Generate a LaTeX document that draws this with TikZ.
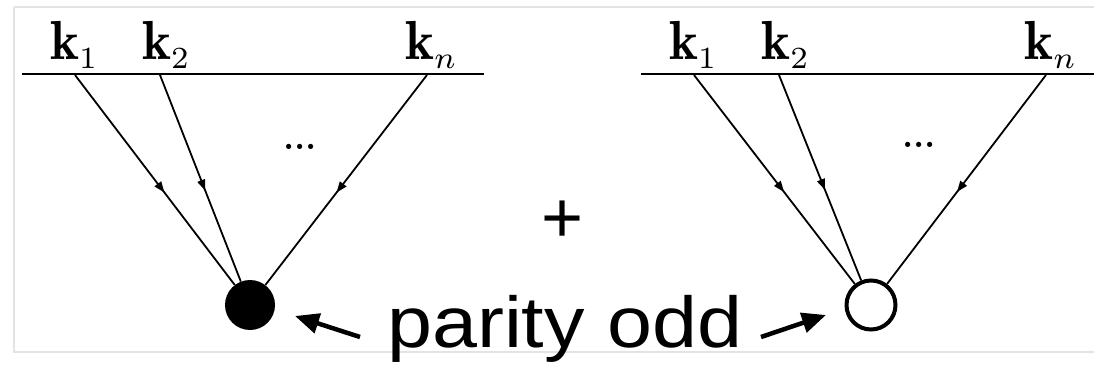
\documentclass[tikz,border=0pt]{standalone}
\usepackage{fontspec}
\newfontfamily\helv{Liberation Sans}
\usetikzlibrary{arrows.meta,decorations.markings}
\newcommand{\kvec}[1]{\scalebox{5.5}{$\mathbf{k}_{\scalebox{0.8}{$\scriptstyle #1$}}$}}
\tikzset{
  frame/.style={draw=black!11,line width=2pt},
  baseline/.style={line width=1.8pt},
  leg/.style={line width=1.8pt,postaction={decorate},
    decoration={markings,mark=at position 0.56 with {\arrow{Triangle[length=11pt,width=8pt]}}}},
  klabel/.style={inner sep=0pt,anchor=base west,font=\fontsize{10}{12}\selectfont},
  vdots/.style={inner sep=0pt,anchor=base,font=\fontsize{36}{36}\selectfont\bfseries},
  fullv/.style={circle,fill=black,minimum size=50pt,inner sep=0pt},
  openv/.style={circle,draw=black,line width=4pt,fill=white,minimum size=49pt,inner sep=0pt},
  pointer/.style={line width=4.5pt,-{Triangle[length=24pt,width=20pt]}},
  bigtext/.style={inner sep=0pt,font=\fontsize{72}{72}\helv}
}
\begin{document}
\begin{tikzpicture}[x=1pt,y=-1pt]
\useasboundingbox (0,0) rectangle (1094,366);
\draw[frame] (14,7) -- (1100,7);
\draw[frame] (14,7) -- (14,352) -- (1100,352);

% left diagram
\coordinate (L0) at (22,74);
\coordinate (L1) at (484,74);
\draw[baseline] (L0) -- (L1);
\coordinate (La) at (75,75);
\coordinate (Lb) at (160,75);
\coordinate (Lc) at (427,75);
\node[fullv] (dot) at (250,305) {};
\node[klabel] (lk1) at (50,60) {\kvec{1}};
\node[klabel] (lk2) at (142,60) {\kvec{2}};
\node[klabel] (lkn) at (405,60) {\kvec{n}};
\node[vdots] (ld) at (300,150) {...};
\draw[leg] (La) -- (dot);
\draw[leg] (Lb) -- (dot);
\draw[leg] (Lc) -- (dot);

% right diagram
\coordinate (R0) at (641,74);
\coordinate (R1) at (1094,74);
\draw[baseline] (R0) -- (R1);
\coordinate (Ra) at (694,75);
\coordinate (Rb) at (779,75);
\coordinate (Rc) at (1046,75);
\node[openv] (circ) at (871,305) {};
\node[klabel] (rk1) at (669,60) {\kvec{1}};
\node[klabel] (rk2) at (761,60) {\kvec{2}};
\node[klabel] (rkn) at (1024,60) {\kvec{n}};
\node[vdots] (rd) at (919,148) {...};
\draw[leg] (Ra) -- (circ);
\draw[leg] (Rb) -- (circ);
\draw[leg] (Rc) -- (circ);

% plus
\node[bigtext] (plus) at (563,222) {+};

% parity odd
\node[bigtext,anchor=base west] (po) at (387,347) {\scalebox{1.123}[1]{parity odd}};
\coordinate (pl) at (360,337);
\coordinate (plt) at (295,316);
\coordinate (pr) at (761,337);
\coordinate (prt) at (826,315);
\draw[pointer] (pl) -- (plt);
\draw[pointer] (pr) -- (prt);
\end{tikzpicture}
\end{document}
